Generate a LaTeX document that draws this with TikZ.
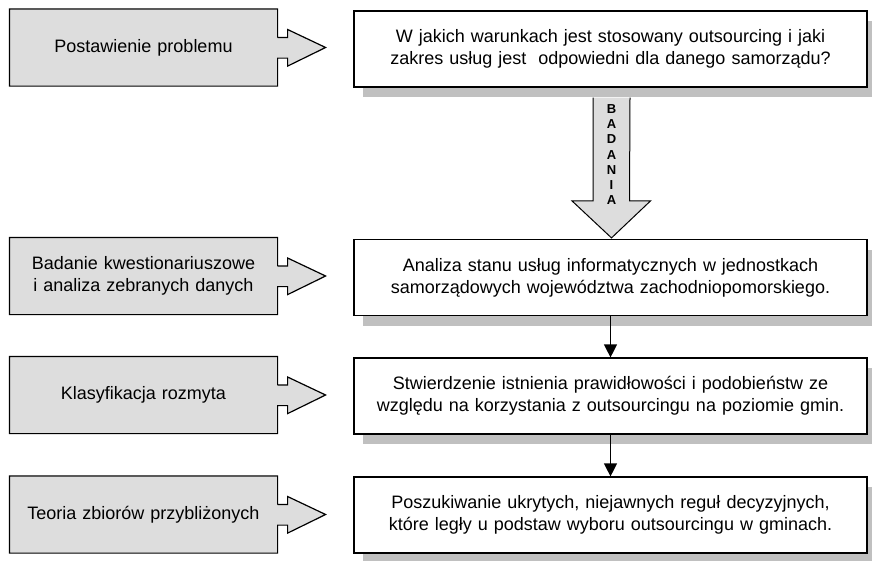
\documentclass[tikz,border=0pt]{standalone}
\usepackage{fontspec}
\setmainfont{Liberation Sans}
\usetikzlibrary{calc,shadows,arrows.meta}
\definecolor{boxgray}{RGB}{221,221,221}
\definecolor{shadowgray}{RGB}{192,192,192}
\tikzset{
	>={Triangle[length=13pt,width=13pt]},
	leftbox/.style={fill=boxgray, minimum width=267pt, minimum height=76pt, text width=260pt, align=center, inner sep=0pt, font=\fontsize{18}{22}\selectfont},
	rightbox/.style={draw, fill=white, line width=1.2pt, minimum width=513pt, minimum height=76pt, text width=505pt, align=center, inner sep=0pt, font=\fontsize{18}{22}\selectfont,
		drop shadow={shadow xshift=9pt, shadow yshift=-10pt, fill=shadowgray, opacity=1}},
	letters/.style={align=center, inner sep=0pt, font=\fontsize{13}{15.3}\selectfont\bfseries}
}
\begin{document}
\begin{tikzpicture}[x=1pt, y=-1pt, line width=1.2pt]
	\useasboundingbox (0,0) rectangle (872,560);
	% left boxes
	\node[leftbox] (p1) at (143.5,47.5) {Postawienie problemu};
	\node[leftbox] (p2) at (143.5,276) {Badanie kwestionariuszowe\\ i analiza zebranych danych};
	\node[leftbox] (p3) at (143.5,395) {Klasyfikacja rozmyta};
	\node[leftbox] (p4) at (143.5,514.5) {Teoria zbiorów przybliżonych};
	\foreach \n in {p1,p2,p3,p4}{
		\fill[boxgray] ($(\n.east)+(-1,-10)$) -- ++(11,0) -- ++(0,-8) -- ($(\n.east)+(48,0)$) -- ($(\n.east)+(10,18)$) -- ++(0,-8) -- ++(-11,0) -- cycle;
		\draw (\n.east) ++(0,-10) -- (\n.north east) -- (\n.north west) -- (\n.south west) -- (\n.south east) -- ++(0,-28)
			-- ++(10,0) -- ++(0,8) -- ($(\n.east)+(48,0)$) -- ($(\n.east)+(10,-18)$) -- ++(0,8) -- ++(-10,0);
	}
	% right boxes
	\node[rightbox] (b1) at (610.5,49) {W jakich warunkach jest stosowany outsourcing i jaki\\ zakres usług jest \ odpowiedni dla danego samorządu?};
	\node[rightbox] (b2) at (610.5,277.5) {Analiza stanu usług informatycznych w jednostkach\\ samorządowych województwa zachodniopomorskiego.};
	\node[rightbox] (b3) at (610.5,396) {Stwierdzenie istnienia prawidłowości i podobieństw ze\\ względu na korzystania z outsourcingu na poziomie gmin.};
	\node[rightbox] (b4) at (610.5,515) {Poszukiwanie ukrytych, niejawnych reguł decyzyjnych,\\ które legły u podstaw wyboru outsourcingu w gminach.};
	% big arrow
	\draw[fill=boxgray, line width=1pt] ($(b1.south)+(-17.5,10)$) -- ($(b2.north)+(-17.5,-38)$) -- ++(-21,0) -- ($(b2.north)+(1,-1)$)
		-- ($(b2.north)+(40,-38)$) -- ++(-21,0) -- ($(b1.south)+(19.5,10)$);
	\node[letters] (bad) at ($(b1.south)+(1,67)$) {B\\A\\D\\A\\N\\I\\A};
	\draw[->] (b2.south) -- (b3.north);
	\draw[->] (b3.south) -- (b4.north);
\end{tikzpicture}
\end{document}
